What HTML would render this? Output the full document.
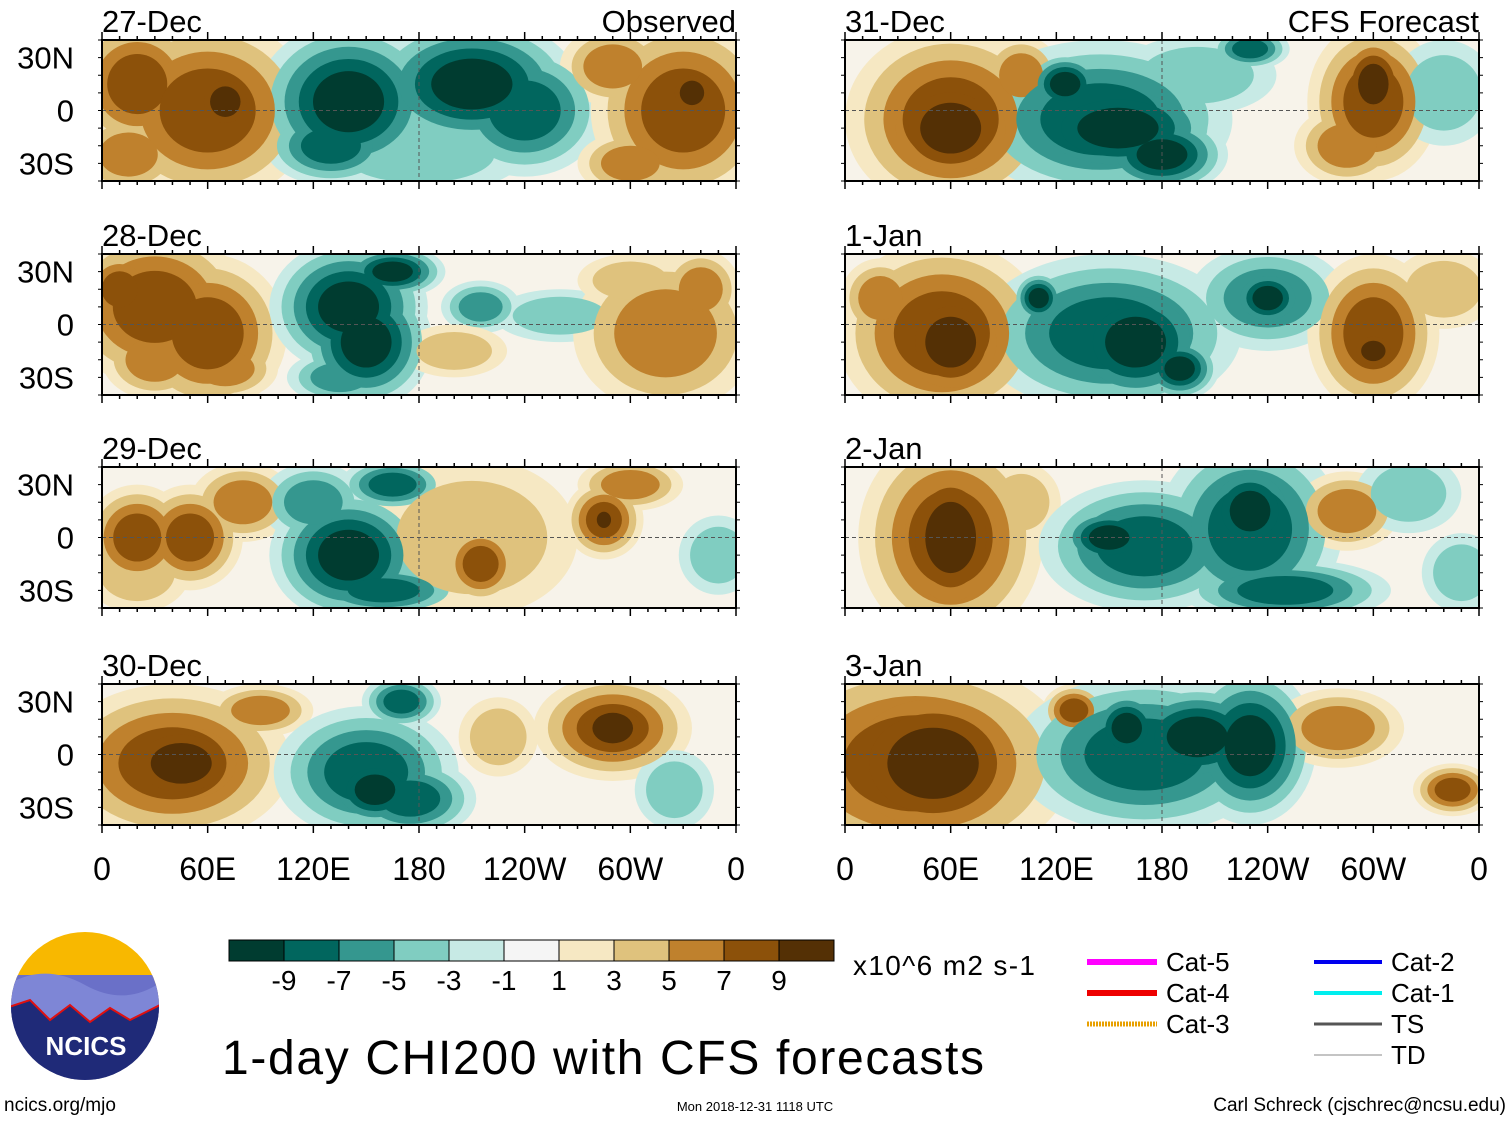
<!DOCTYPE html>
<html><head><meta charset="utf-8"><style>
body{margin:0;background:#fff;}
svg text{font-family:"Liberation Sans",sans-serif;}
</style></head><body>
<svg id="chart" width="1510" height="1121" viewBox="0 0 1510 1121" xmlns="http://www.w3.org/2000/svg">
<rect width="1510" height="1121" fill="#fff"/>
<g id="panels"></g>
<g id="static"></g>
</svg>
<script>
// anomaly blobs per panel: lon(0-360), lat, value, lon radius, lat radius
const panelTitles = ["27-Dec","28-Dec","29-Dec","30-Dec","31-Dec","1-Jan","2-Jan","3-Jan"];
const blobs27Dec = [[20,15,7,25,25],[60,0,7,40,35],[70,5,9,15,15],[15,-25,5,20,15],[140,5,-9,35,30],[130,-20,-7,25,15],[210,15,-9,40,25],[240,0,-7,30,25],[180,-25,-3,40,15],[330,0,7,35,35],[335,10,9,12,12],[290,25,5,20,15],[300,-30,5,20,12]];
const blobs28Dec = [[30,10,7,35,30],[60,-5,7,30,30],[10,20,7,15,15],[30,-20,5,20,15],[70,-25,5,20,12],[140,10,-9,30,25],[150,-10,-9,25,25],[135,-30,-5,20,10],[165,30,-9,20,10],[215,10,-5,15,10],[260,5,-3,25,10],[200,-15,3,20,10],[320,-5,5,35,30],[340,20,5,15,15],[300,25,3,20,10]];
const blobs29Dec = [[20,0,7,20,20],[50,0,7,20,20],[80,20,5,20,15],[20,-20,3,20,15],[140,-10,-9,30,25],[160,-30,-7,30,10],[120,20,-5,20,15],[165,30,-7,20,10],[210,0,3,40,30],[215,-15,7,15,15],[285,10,7,15,15],[285,10,9,7,8],[300,30,5,20,10],[350,-10,-3,15,15]];
const blobs30Dec = [[40,-5,7,45,30],[45,-5,9,30,20],[90,25,5,20,10],[150,-10,-7,35,25],[155,-20,-9,20,15],[175,-25,-7,25,15],[170,30,-7,15,10],[225,10,3,15,15],[290,15,7,30,20],[290,15,9,20,15],[325,-20,-3,15,15]];
const blobs31Dec = [[60,-5,7,40,35],[60,-10,9,30,25],[100,20,5,15,15],[145,-5,-7,50,30],[125,15,-9,15,12],[155,-10,-9,40,20],[180,-25,-9,25,15],[300,5,7,25,30],[300,15,9,15,20],[285,-20,5,20,15],[200,20,-3,30,15],[230,35,-7,15,8],[340,10,-3,20,20]];
const blobs1Jan = [[55,-5,7,40,35],[60,-10,9,25,25],[110,15,-9,10,10],[150,-5,-7,50,30],[165,-10,-9,30,25],[190,-25,-9,15,12],[240,15,-5,30,20],[240,15,-9,15,12],[300,-5,7,25,30],[300,-15,9,12,10],[20,15,5,15,15],[340,20,3,20,15]];
const blobs2Jan = [[60,0,7,35,40],[60,0,9,25,35],[100,20,3,15,15],[170,-5,-7,40,25],[150,0,-9,20,12],[230,5,-7,35,35],[230,15,-9,20,20],[250,-30,-7,40,12],[285,15,5,20,15],[320,25,-3,20,15],[350,-20,-3,15,15]];
const blobs3Jan = [[40,-5,7,60,40],[50,-5,9,45,35],[130,25,7,12,10],[170,0,-7,50,30],[230,5,-9,25,30],[200,10,-9,30,20],[160,15,-9,15,15],[280,15,5,25,15],[345,-20,7,15,10],[30,20,3,20,15]];
const allBlobs = [blobs27Dec,blobs28Dec,blobs29Dec,blobs30Dec,blobs31Dec,blobs1Jan,blobs2Jan,blobs3Jan];
const cbLabels = ["-9","-7","-5","-3","-1","1","3","5","7","9"];
const xTickLons = [0,60,120,180,240,300,360];
const xTickLabels = ["0","60E","120E","180","120W","60W","0"];
const yTickLats = [30,0,-30];
const yTickLabels = ["30N","0","30S"];

const NS="http://www.w3.org/2000/svg";
const posC=["#f6e8c3","#dfc27d","#bf812d","#8c510a","#543005"];
const negC=["#c7eae5","#80cdc1","#35978f","#01665e","#003c30"];
const cbColors=["#003c30","#01665e","#35978f","#80cdc1","#c7eae5","#f5f5f5","#f6e8c3","#dfc27d","#bf812d","#8c510a","#543005"];
const PW=634, PH=141;
const panelX=[102,102,102,102,845,845,845,845];
const panelY=[40,254,467,684,40,254,467,684];
function mk(tag,attrs,parent){const e=document.createElementNS(NS,tag);for(const k in attrs)e.setAttribute(k,attrs[k]);parent.appendChild(e);return e;}
const g=document.getElementById('panels');
const defs=mk('defs',{},g);
const xs=(lon)=>lon/360*PW;
const ys=(lat)=>(40-lat)/80*PH;
allBlobs.forEach((bl,i)=>{
  const px=panelX[i],py=panelY[i];
  const cp=mk('clipPath',{id:'cp'+i},defs);
  mk('rect',{x:0,y:0,width:PW,height:PH},cp);
  const pg=mk('g',{transform:`translate(${px},${py})`},g);
  
  
  const inner=mk('g',{'clip-path':`url(#cp${i})`},pg);
  mk('rect',{x:0,y:0,width:PW,height:PH,fill:'#f7f3ea'},inner);
  for(let lev=1;lev<=5;lev++){
    bl.forEach(b=>{
      const v=b[2],n=Math.ceil((Math.abs(v)+1)/2);
      if(lev>n)return;
      const f=1-(lev-1)/(n+1.5);
      const e=mk('ellipse',{cx:xs(b[0]),cy:ys(b[1]),rx:xs(b[3])*f*1.5,ry:(b[4]/80*PH)*f*1.5,fill:(v>0?posC:negC)[lev-1]},inner);
      
      
    });
  }
  mk('line',{x1:0,x2:PW,y1:ys(0),y2:ys(0),stroke:'#555','stroke-dasharray':'4,3','stroke-width':1},inner);
  mk('line',{x1:xs(180),x2:xs(180),y1:0,y2:PH,stroke:'#555','stroke-dasharray':'4,3','stroke-width':1},inner);
  mk('rect',{x:0,y:0,width:PW,height:PH,fill:'none',stroke:'#000','stroke-width':2},pg);
  for(let l=0;l<=360;l+=10){const t=l%60==0?8:4;
    mk('line',{x1:xs(l),x2:xs(l),y1:PH,y2:PH+t,stroke:'#000','stroke-width':1.5},pg);
    mk('line',{x1:xs(l),x2:xs(l),y1:0,y2:-t,stroke:'#000','stroke-width':1.5},pg);}
  for(let la=-40;la<=40;la+=10){
    mk('line',{x1:-4,x2:0,y1:ys(la),y2:ys(la),stroke:'#000'},pg);
    mk('line',{x1:PW,x2:PW+4,y1:ys(la),y2:ys(la),stroke:'#000'},pg);}
  const t=mk('text',{x:0,y:-8,'font-size':31},pg);t.textContent=panelTitles[i];
  
  
  if(i==0||i==4){const r=mk('text',{x:PW,y:-8,'font-size':31,'text-anchor':'end'},pg);r.textContent=i==0?'Observed':'CFS Forecast';
    
    }
  if(i<4){yTickLats.forEach((la,k)=>{const y=mk('text',{x:-28,y:ys(la)+11,'font-size':31,'text-anchor':'end'},pg);y.textContent=yTickLabels[k];
    
    });}
  if(i==3||i==7){xTickLons.forEach((l,k)=>{const x=mk('text',{x:xs(l),y:PH+55,'font-size':32,'text-anchor':'middle'},pg);x.textContent=xTickLabels[k];
    
    });}
});
// colorbar
const s=document.getElementById('static');
const cb=mk('g',{},s);


cbColors.forEach((c,k)=>mk('rect',{x:229+k*55,y:940,width:55,height:21,fill:c,stroke:'#000','stroke-width':1},cb));
cbLabels.forEach((l,k)=>{const t=mk('text',{x:284+k*55,y:990,'font-size':28,'text-anchor':'middle'},cb);t.textContent=l;});
</script>
<svg style="position:absolute;left:0;top:0" width="1510" height="1121" xmlns="http://www.w3.org/2000/svg">
<text x="853" y="975" font-size="28" textLength="182" font-family="Liberation Sans">x10^6 m2 s-1</text>
<text x="222" y="1074" font-size="48" textLength="762" font-family="Liberation Sans">1-day CHI200 with CFS forecasts</text>
<g font-family="Liberation Sans" font-size="26">
<line x1="1087" x2="1157" y1="962" y2="962" stroke="#ff00ff" stroke-width="6"/><text x="1166" y="971">Cat-5</text>
<line x1="1087" x2="1157" y1="993" y2="993" stroke="#ee0000" stroke-width="6"/><text x="1166" y="1002">Cat-4</text>
<line x1="1087" x2="1157" y1="1024" y2="1024" stroke="#e8a000" stroke-width="5" stroke-dasharray="2,1"/><text x="1166" y="1033">Cat-3</text>
<line x1="1314" x2="1382" y1="962" y2="962" stroke="#0000ee" stroke-width="4"/><text x="1391" y="971">Cat-2</text>
<line x1="1314" x2="1382" y1="993" y2="993" stroke="#00eeee" stroke-width="4"/><text x="1391" y="1002">Cat-1</text>
<line x1="1314" x2="1382" y1="1024" y2="1024" stroke="#555" stroke-width="3"/><text x="1391" y="1033">TS</text>
<line x1="1314" x2="1382" y1="1055" y2="1055" stroke="#888" stroke-width="1"/><text x="1391" y="1064">TD</text>
</g>
<g>
<clipPath id="lc"><circle cx="85" cy="1006" r="74"/></clipPath>
<g clip-path="url(#lc)">
<rect x="0" y="930" width="170" height="160" fill="#f8b800"/>
<rect x="0" y="975" width="170" height="120" fill="#6a70c8"/>
<path d="M0 990 Q40 960 85 985 T170 975 V1100 H0Z" fill="#7e86d6"/>
<path d="M0 1010 L30 1000 L50 1020 L70 1005 L90 1022 L110 1008 L130 1020 L170 1000 V1100 H0Z" fill="#1f2a78" stroke="#e01010" stroke-width="2"/>
</g>
<text x="86" y="1055" font-size="26" font-weight="bold" fill="#fff" text-anchor="middle" font-family="Liberation Sans">NCICS</text>
</g>
<text x="4" y="1111" font-size="19" font-family="Liberation Sans">ncics.org/mjo</text>
<text x="755" y="1111" font-size="13" text-anchor="middle" font-family="Liberation Sans">Mon 2018-12-31 1118 UTC</text>
<text x="1506" y="1111" font-size="19" text-anchor="end" font-family="Liberation Sans">Carl Schreck (cjschrec@ncsu.edu)</text>
</svg>
</body></html>
